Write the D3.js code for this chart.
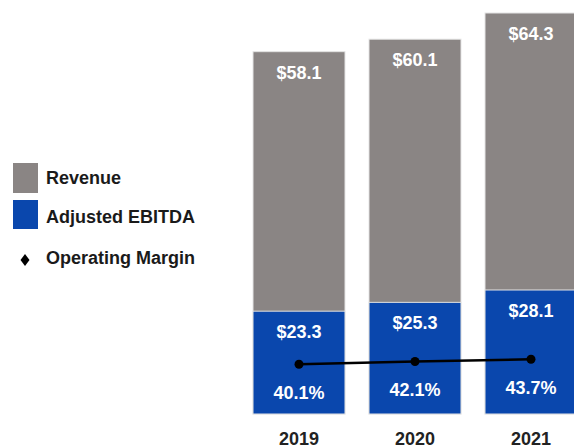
<!DOCTYPE html>
<html><head><meta charset="utf-8">
<script src="https://cdn.jsdelivr.net/npm/d3@7"></script>
<style>html,body{margin:0;padding:0;background:#fff;}svg{display:block;font-family:"Liberation Sans",Arial,sans-serif;}</style>
</head><body>
<script>
const years = ["2019","2020","2021"];
const revenue = [58.1, 60.1, 64.3];
const ebitda = [23.3, 25.3, 28.1];
const margin = [40.1, 42.1, 43.7];
const legendLabels = ["Revenue","Adjusted EBITDA","Operating Margin"];

const W = 574, H = 448;
const grayC = "#8a8584", blueC = "#0a47ad";
const svg = d3.select("body").append("svg").attr("width", W).attr("height", H);

const x = d3.scaleBand().domain(years).range([241, 589]).paddingInner(0.207).paddingOuter(0.1035);
const yRev = d3.scaleLinear().domain([0, 64.3]).range([414, 13]);
const yEb = d3.scaleLinear().domain([0, 28.1]).range([414, 290]);
const yM = d3.scaleLinear().domain([0, 100]).range([420, 281]);

const data = years.map((y, i) => ({year: y, rev: revenue[i], eb: ebitda[i], m: margin[i]}));

svg.selectAll("rect.rev").data(data).join("rect").attr("class","rev")
  .attr("x", d => x(d.year)).attr("width", x.bandwidth())
  .attr("y", d => yRev(d.rev)).attr("height", d => yRev(0) - yRev(d.rev))
  .attr("fill", grayC).attr("stroke", "#e4e4e4").attr("stroke-width", 1);

svg.selectAll("rect.eb").data(data).join("rect").attr("class","eb")
  .attr("x", d => x(d.year)).attr("width", x.bandwidth())
  .attr("y", d => yEb(d.eb)).attr("height", d => yEb(0) - yEb(d.eb))
  .attr("fill", blueC).attr("stroke", "#e4e4e4").attr("stroke-width", 1);

const cx = d => x(d.year) + x.bandwidth() / 2;

svg.selectAll("text.revl").data(data).join("text").attr("class","revl")
  .attr("x", cx).attr("y", d => yRev(d.rev) + 27).attr("text-anchor","middle")
  .attr("fill","#fff").attr("font-weight","bold").attr("font-size",18)
  .text(d => "$" + d.rev.toFixed(1));

svg.selectAll("text.ebl").data(data).join("text").attr("class","ebl")
  .attr("x", cx).attr("y", d => yEb(d.eb) + 27).attr("text-anchor","middle")
  .attr("fill","#fff").attr("font-weight","bold").attr("font-size",18)
  .text(d => "$" + d.eb.toFixed(1));

const line = d3.line().x(cx).y(d => yM(d.m));
svg.append("path").datum(data).attr("d", line).attr("fill","none")
  .attr("stroke","#000").attr("stroke-width",2.5);
svg.selectAll("circle.m").data(data).join("circle").attr("class","m")
  .attr("cx", cx).attr("cy", d => yM(d.m)).attr("r", 4.5).attr("fill","#000");

svg.selectAll("text.ml").data(data).join("text").attr("class","ml")
  .attr("x", cx).attr("y", d => yM(d.m) + 35).attr("text-anchor","middle")
  .attr("fill","#fff").attr("font-weight","bold").attr("font-size",18)
  .text(d => d.m.toFixed(1) + "%");

const xAxis = d3.axisBottom(x).tickSize(0).tickPadding(0);
const ax = svg.append("g").attr("transform","translate(0,432)").call(xAxis);
ax.select(".domain").remove();
ax.selectAll("text").attr("font-size",18).attr("font-weight","bold").attr("fill","#222")
  .attr("font-family","'Liberation Sans',Arial,sans-serif");

// legend
const lg = svg.append("g");
lg.append("rect").attr("x",13).attr("y",163).attr("width",25).attr("height",30).attr("fill",grayC);
lg.append("rect").attr("x",13).attr("y",200).attr("width",25).attr("height",29).attr("fill",blueC);
lg.append("path").attr("d","M25,254 L29.5,260 L25,266 L20.5,260 Z").attr("fill","#000");
const ly = [184, 223, 264];
lg.selectAll("text").data(legendLabels).join("text")
  .attr("x",46).attr("y",(d,i)=>ly[i]).attr("font-size",18).attr("font-weight","bold")
  .attr("fill","#1a1a1a").text(d=>d);
</script>
</body></html>
